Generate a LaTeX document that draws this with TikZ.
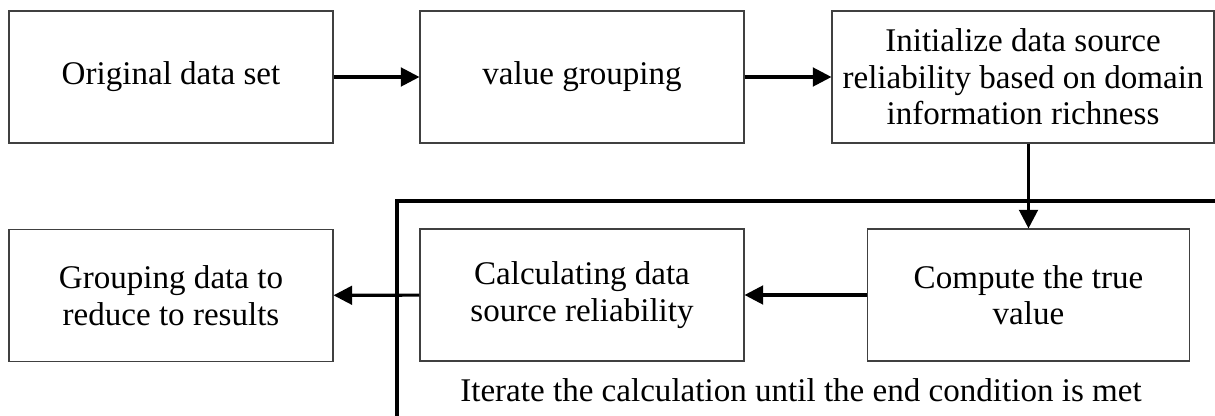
\documentclass[tikz,border=0pt]{standalone}
\usepackage{fontspec}
\setmainfont{Liberation Serif}
\usetikzlibrary{arrows.meta,positioning,calc}
\tikzstyle{box} = [rectangle, draw=black!75, line width=0.8pt, minimum width=243pt, minimum height=99pt, align=center, inner sep=0pt, font=\fontsize{24.8}{27.4}\selectfont]
\tikzstyle{arrow} = [line width=2.3pt, -{Triangle[length=14pt,width=14pt]}]
\tikzstyle{loopframe} = [line width=2.6pt]

\begin{document}
\begin{tikzpicture}[x=0.75pt,y=-0.75pt]
\clip (0,0) rectangle (1215,416);
\useasboundingbox (0,0) rectangle (1215,416);
% top row
\node (orig) [box] at (171,77) {Original data set};
\node (group) [box] at (582,77) {value grouping};
\node (init) [box, minimum width=286.5pt] at (1023,77) {Initialize data source\\reliability based on domain\\information richness};
% bottom row
\node (reduce) [box] at (171,295.5) {Grouping data to\\reduce to results};
\node (calc) [box] at (582,295) {Calculating data\\source reliability};
\node (truev) [box, minimum width=242pt] at (1028.5,295) {Compute the true\\value};
% iteration frame
\coordinate (loop) at (397,201);
\draw [loopframe] (loop) rectangle (1240,440);
\node (iter) at (801,390) {\fontsize{24.8}{27.4}\selectfont Iterate the calculation until the end condition is met};
\draw [arrow] (orig) -- (group);
\draw [arrow] (group) -- (init);
\draw [arrow] (truev.north |- init.south) -- (truev.north);
\draw [arrow] (truev) -- (calc);
\draw [arrow] (calc) -- (reduce);
\end{tikzpicture}
\end{document}
